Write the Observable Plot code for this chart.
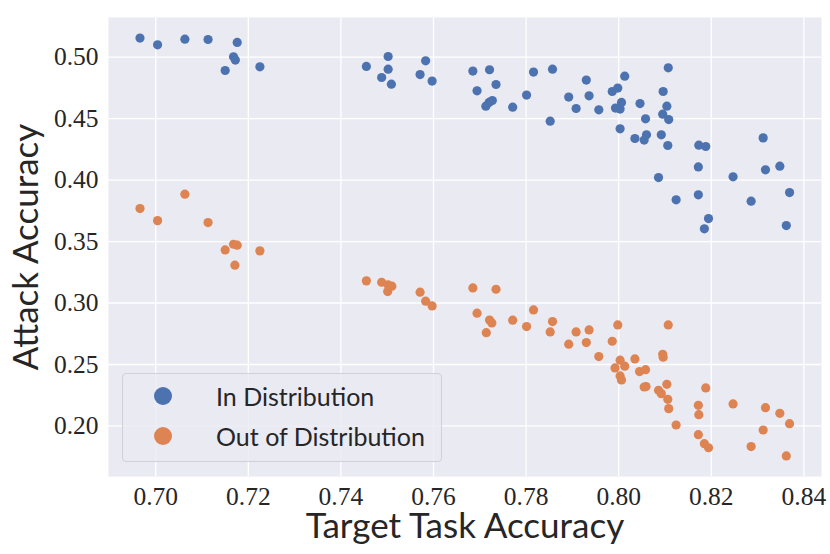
<!DOCTYPE html>
<html><head><meta charset="utf-8">
<script src="https://cdn.jsdelivr.net/npm/d3@7"></script>
<script src="https://cdn.jsdelivr.net/npm/@observablehq/plot@0.6"></script>
<style>
body{margin:0;background:#fff;}
#wrap{position:relative;width:830px;height:554px;}
svg g[aria-label="x-axis label"] text, svg g[aria-label="y-axis label"] text{font-family:Lato,"Noto Sans",sans-serif;font-size:35px;fill:#262626;}
#legend{position:absolute;left:122px;top:373px;width:318px;height:87px;border:1px solid #d0d0d6;border-radius:4px;background:rgba(234,234,242,0.8);font-family:Lato,"Noto Sans",sans-serif;font-size:25px;color:#262626;}
#legend .row{position:absolute;left:0;height:40px;display:flex;align-items:center;}
#legend .sw{position:absolute;left:31px;width:18px;height:18px;border-radius:50%;}
#legend .lab{position:absolute;left:93px;white-space:nowrap;}
</style></head><body><div id="wrap"></div>
<script>
const seriesNames = ["In Distribution", "Out of Distribution"];
const seriesColors = ["#4C72B0", "#DD8452"];

const inX = [0.6966,0.7004,0.7063,0.7113,0.7176,0.7168,0.7172,0.7150,0.7225,
  0.7455,0.7502,0.7502,0.7488,0.7509,0.7583,0.7571,0.7597,0.7685,0.7721,0.7694,0.7735,0.7727,0.7720,0.7713,0.7771,0.7801,0.7816,0.7857,0.7852,0.7930,0.7892,0.7936,0.7908,0.7957,
  0.8013,0.7986,0.7998,0.8006,0.7993,0.8003,0.8046,0.8058,0.8003,0.8035,0.8060,0.8055,0.8107,0.8096,0.8104,0.8095,0.8108,0.8092,0.8106,0.8086,0.8124,0.8173,0.8188,0.8172,0.8172,0.8194,0.8185,0.8247,0.8312,0.8317,0.8348,0.8286,0.8369,0.8362];
const inY = [0.5155,0.5100,0.5146,0.5143,0.5119,0.5002,0.4976,0.4891,0.4921,
  0.4924,0.5005,0.4902,0.4834,0.4780,0.4970,0.4858,0.4805,0.4886,0.4897,0.4726,0.4777,0.4647,0.4631,0.4601,0.4593,0.4691,0.4878,0.4902,0.4479,0.4813,0.4675,0.4685,0.4582,0.4571,
  0.4845,0.4720,0.4748,0.4631,0.4585,0.4577,0.4622,0.4498,0.4417,0.4338,0.4368,0.4325,0.4913,0.4720,0.4601,0.4536,0.4492,0.4368,0.4281,0.4020,0.3839,0.4284,0.4273,0.4107,0.3880,0.3687,0.3603,0.4026,0.4343,0.4083,0.4113,0.3828,0.3898,0.3630];

const outX = [0.7063,0.6966,0.7004,0.7113,0.7168,0.7176,0.7150,0.7225,0.7171,
  0.7455,0.7488,0.7502,0.7510,0.7501,0.7571,0.7583,0.7597,0.7685,0.7735,0.7694,0.7721,0.7726,0.7714,0.7771,0.7816,0.7801,0.7857,0.7852,0.7908,0.7936,0.7892,0.7930,0.7957,
  0.7998,0.7986,0.8003,0.7992,0.8013,0.8003,0.8006,0.8035,0.8045,0.8058,0.8055,0.8059,0.8107,0.8095,0.8096,0.8104,0.8086,0.8092,0.8106,0.8108,0.8124,0.8188,0.8172,0.8173,0.8172,0.8185,0.8194,0.8247,0.8317,0.8348,0.8369,0.8312,0.8286,0.8362];
const outY = [0.3885,0.3768,0.3670,0.3654,0.3478,0.3470,0.3432,0.3424,0.3308,
  0.3180,0.3169,0.3147,0.3137,0.3093,0.3088,0.3015,0.2976,0.3123,0.3112,0.2917,0.2862,0.2838,0.2759,0.2860,0.2944,0.2808,0.2849,0.2765,0.2765,0.2781,0.2665,0.2678,0.2564,
  0.2822,0.2689,0.2535,0.2472,0.2486,0.2407,0.2374,0.2545,0.2442,0.2458,0.2317,0.2320,0.2822,0.2583,0.2559,0.2339,0.2290,0.2263,0.2217,0.2141,0.2008,0.2309,0.2168,0.2092,0.1929,0.1856,0.1823,0.2179,0.2149,0.2103,0.2019,0.1967,0.1832,0.1756];

const xTicks = [0.70, 0.72, 0.74, 0.76, 0.78, 0.80, 0.82, 0.84];
const yTicks = [0.20, 0.25, 0.30, 0.35, 0.40, 0.45, 0.50];
const xTitle = "Target Task Accuracy";
const yTitle = "Attack Accuracy";

const rows = [
  ...inX.map((x, i) => ({x, y: inY[i], s: seriesNames[0]})),
  ...outX.map((x, i) => ({x, y: outY[i], s: seriesNames[1]}))
];

const fmt = d3.format(".2f");
const chart = Plot.plot({
  width: 830, height: 554,
  marginLeft: 108, marginTop: 17, marginRight: 9, marginBottom: 78,
  x: {domain: [0.6898, 0.8438]},
  y: {domain: [0.1589, 0.5322]},
  color: {domain: seriesNames, range: seriesColors},
  style: {background: "transparent", fontFamily: "'Liberation Serif', serif", color: "#262626"},
  marks: [
    Plot.frame({fill: "#EAEAF2", stroke: "none"}),
    Plot.gridX(xTicks, {stroke: "#ffffff", strokeOpacity: 1, strokeWidth: 1.3}),
    Plot.gridY(yTicks, {stroke: "#ffffff", strokeOpacity: 1, strokeWidth: 1.3}),
    Plot.axisX(xTicks, {tickSize: 0, tickPadding: 10, tickFormat: fmt, fontSize: 25.5, fill: "#262626",
      label: xTitle, labelAnchor: "center", labelArrow: "none", labelOffset: 61}),
    Plot.axisY(yTicks, {tickSize: 0, tickPadding: 10, tickFormat: fmt, fontSize: 25.5, fill: "#262626",
      label: yTitle, labelAnchor: "center", labelArrow: "none", labelOffset: 95}),
    Plot.dot(rows, {x: "x", y: "y", fill: "s", r: 4.6})
  ]
});
const wrap = document.getElementById("wrap");
wrap.appendChild(chart);

const legend = document.createElement("div");
legend.id = "legend";
seriesNames.forEach((name, i) => {
  const row = document.createElement("div");
  row.className = "row";
  row.style.top = (2 + i * 40) + "px";
  row.style.width = "100%";
  const sw = document.createElement("span");
  sw.className = "sw";
  sw.style.background = seriesColors[i];
  const lab = document.createElement("span");
  lab.className = "lab";
  lab.textContent = name;
  row.appendChild(sw); row.appendChild(lab);
  legend.appendChild(row);
});
wrap.appendChild(legend);
</script>
</body></html>
